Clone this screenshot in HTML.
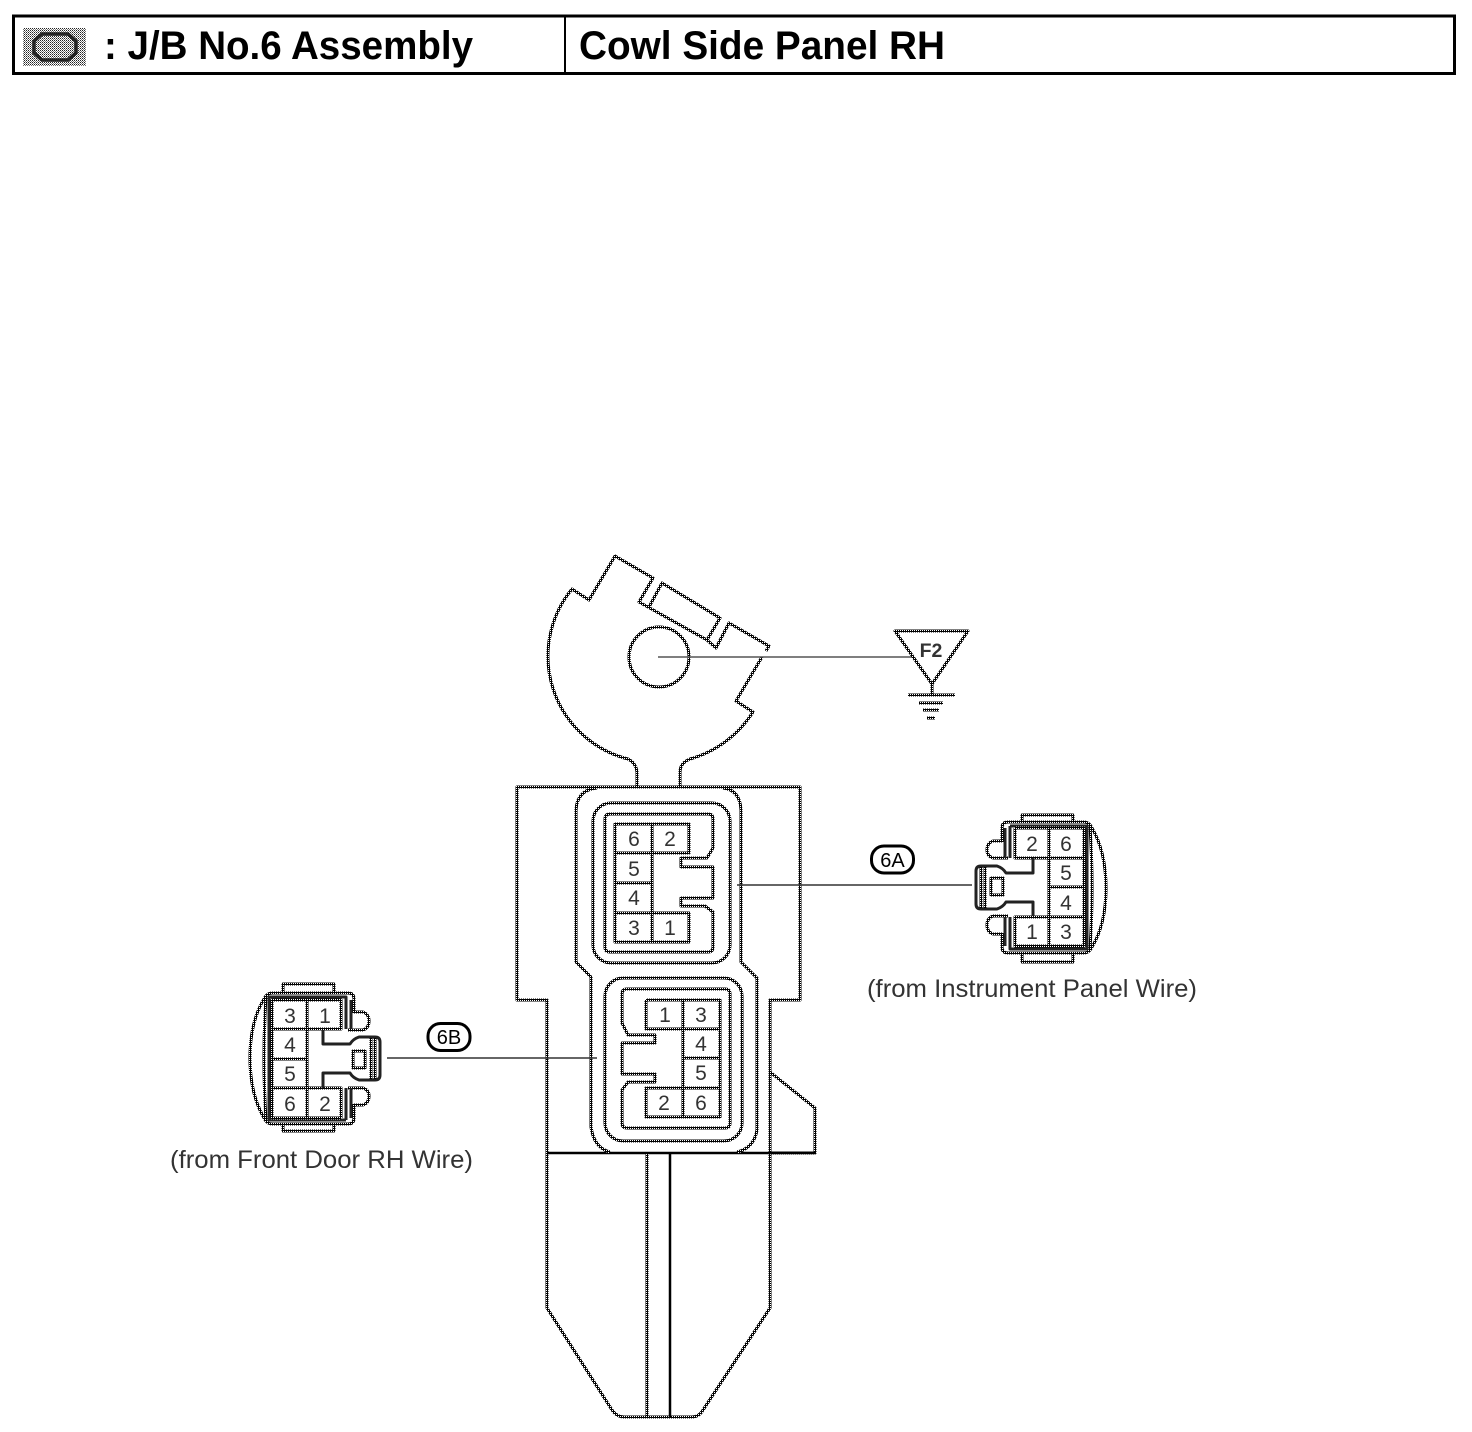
<!DOCTYPE html>
<html lang="en">
<head>
<meta charset="utf-8">
<title>J/B No.6 Assembly</title>
<style>
html,body{margin:0;padding:0;background:#fff;width:1472px;height:1432px;overflow:hidden}
svg{display:block}
text{font-family:"Liberation Sans",sans-serif}
.l{fill:none;stroke:url(#d);stroke-width:3;stroke-linejoin:round}
.k{fill:none;stroke:#222;stroke-width:3;stroke-linejoin:round}
.n{font-size:21px;fill:#333;text-anchor:middle}
.c{font-size:25px;fill:#333}
.h{font-size:40px;font-weight:bold;fill:#000}
</style>
</head>
<body>
<svg width="1472" height="1432" viewBox="0 0 1472 1432" xmlns="http://www.w3.org/2000/svg">
<defs>
<pattern id="d" width="2" height="2" patternUnits="userSpaceOnUse">
<rect width="2" height="2" fill="#000"/>
<rect width="1" height="1" fill="#fff"/>
</pattern>
<pattern id="g" width="2" height="2" patternUnits="userSpaceOnUse">
<rect width="2" height="2" fill="#fff"/>
<rect width="1" height="1" fill="#222"/>
<rect x="1" y="1" width="1" height="1" fill="#777"/>
</pattern>
<g id="conn">
<path class="l" d="M1022 822V815H1073V822M1022 953V962H1073V953"/>
<path class="l" d="M1002 842V828Q1002 822 1008 822H1084Q1089 822 1092 828Q1106 852 1106 888Q1106 924 1092 947Q1089 953 1084 953H1008Q1002 953 1002 947V933"/>
<path class="l" d="M1090 826Q1094 888 1090 949"/>
<path class="k" d="M1010 826H1087V949H1010V917M1010 826V858"/>
<path class="l" d="M1015 828H1084V946H1015V917H1049M1015 828V858H1049M1049 828V946M1049 858H1084M1049 887H1084M1049 917H1084"/>
<path class="k" d="M1033 858V873H1006Q1003 868 997 866H981Q976 866 976 871V904Q976 909 981 909H997Q1003 907 1006 902H1033V916" stroke-width="3.500"/>
<path class="l" d="M981 867V908M985 867V908"/>
<path class="l" d="M991 878H1003V895H991Z"/>
<path class="l" d="M1003 841H993Q987 843 987 850Q987 856 993 858H1008"/>
<path class="l" d="M1003 934H993Q987 932 987 925Q987 918 993 916H1008"/>
<path class="k" d="M1005 828V858M1005 917V946"/>
</g>
</defs>

<!-- header -->
<rect x="13.500" y="16" width="1441" height="57.500" fill="none" stroke="#000" stroke-width="3"/>
<line x1="565" y1="16" x2="565" y2="74" stroke="#000" stroke-width="2"/>
<rect x="23" y="28" width="63" height="38" fill="url(#g)"/>
<path d="M42 34H68L76 41V53L68 60H42L34 53V41Z" fill="none" stroke="#222" stroke-width="3.500"/>
<text class="h" x="104" y="59" textLength="369" lengthAdjust="spacingAndGlyphs">: J/B No.6 Assembly</text>
<text class="h" x="579" y="59" textLength="366" lengthAdjust="spacingAndGlyphs">Cowl Side Panel RH</text>

<!-- top bracket -->
<path class="l" d="M637 787V772Q636 763 628 759A106 106 0 0 1 572 589L589 600L615 556L653 578L639 602L707 640L716 648L729 623L769 646L766 651"/>
<path class="l" d="M762 657L736 701L753 712A110 110 0 0 1 690 759Q680 763 680 772V787"/>
<path class="l" d="M649 607L662 583L720 618L707 640"/>
<circle class="l" cx="659" cy="657" r="30"/>
<line x1="658" y1="657" x2="912" y2="657" stroke="#555" stroke-width="1.500"/>

<!-- ground symbol -->
<path class="l" d="M895 631H968L932 684Z"/>
<line class="l" x1="932" y1="684" x2="932" y2="695"/>
<line class="l" x1="908" y1="695" x2="955" y2="695"/>
<line class="l" x1="919" y1="703" x2="943" y2="703"/>
<line class="l" x1="923" y1="710" x2="939" y2="710"/>
<line class="l" x1="927" y1="718" x2="935" y2="718"/>
<text x="931" y="657" font-size="19.500" font-weight="bold" fill="#333" text-anchor="middle">F2</text>

<!-- main body -->
<path class="l" d="M517 787V1000H547V1308L612 1410Q617 1417 624 1417H692Q699 1417 703 1410L770 1308V1000H800V787Z"/>
<path class="l" d="M770 1072L815 1108V1153H770"/>
<line x1="547" y1="1153" x2="815" y2="1153" stroke="#000" stroke-width="2.500"/>
<line class="l" x1="647" y1="1153" x2="647" y2="1417"/>
<line x1="670" y1="1153" x2="670" y2="1417" stroke="#000" stroke-width="2.500"/>

<!-- centre outline -->
<path class="l" d="M592 978L576 962V810Q577 790 597 788M723 788Q740 790 741 810V962L757 978V1130Q754 1148 737 1152M610 1152Q594 1148 591 1127V978"/>

<!-- upper socket -->
<rect class="l" x="593" y="803" width="137" height="160" rx="18"/>
<path class="l" d="M610 814H708Q713 814 713 819V848L707 858H681V867H713V898H681V906H705L713 912V947Q713 952 708 952H610Q605 952 605 947V819Q605 814 610 814Z"/>
<path class="l" d="M615 824H689V853H615ZM615 853V942H689V913H615M615 883H652M652 824V942"/>
<text class="n" x="634" y="846">6</text><text class="n" x="670" y="846">2</text>
<text class="n" x="634" y="876">5</text><text class="n" x="634" y="905">4</text>
<text class="n" x="634" y="935">3</text><text class="n" x="670" y="935">1</text>
<line x1="737" y1="885" x2="972" y2="885" stroke="#333" stroke-width="1.500"/>

<!-- lower socket -->
<rect class="l" x="605" y="978" width="137" height="163" rx="18"/>
<path class="l" d="M627 989H725Q730 989 730 994V1123Q730 1128 725 1128H627Q622 1128 622 1123V1090L628 1082H655V1074H622V1043H655V1035H628L622 1023V994Q622 989 627 989Z"/>
<path class="l" d="M646 1000H720V1117H646V1088H720M646 1000V1029H720M683 1000V1117M683 1058H720"/>
<text class="n" x="665" y="1022">1</text><text class="n" x="701" y="1022">3</text>
<text class="n" x="701" y="1051">4</text><text class="n" x="701" y="1080">5</text>
<text class="n" x="664" y="1110">2</text><text class="n" x="701" y="1110">6</text>
<line x1="387" y1="1058" x2="597" y2="1058" stroke="#333" stroke-width="1.500"/>

<!-- right connector -->
<use href="#conn"/>
<text class="n" x="1032" y="851">2</text><text class="n" x="1066" y="851">6</text>
<text class="n" x="1066" y="880">5</text><text class="n" x="1066" y="910">4</text>
<text class="n" x="1032" y="939">1</text><text class="n" x="1066" y="939">3</text>

<!-- left connector -->
<use href="#conn" transform="rotate(180 678 973)"/>
<text class="n" x="290" y="1023">3</text><text class="n" x="325" y="1023">1</text>
<text class="n" x="290" y="1052">4</text><text class="n" x="290" y="1081">5</text>
<text class="n" x="290" y="1111">6</text><text class="n" x="325" y="1111">2</text>

<!-- labels -->
<rect x="871.500" y="846" width="42" height="27" rx="12.500" fill="#fff" stroke="#000" stroke-width="3"/>
<text x="892.500" y="867" font-size="20" fill="#000" text-anchor="middle">6A</text>
<rect x="428" y="1023.500" width="42" height="27" rx="12.500" fill="#fff" stroke="#000" stroke-width="3"/>
<text x="449" y="1044" font-size="20" fill="#000" text-anchor="middle">6B</text>
<text class="c" x="867" y="997" textLength="330" lengthAdjust="spacingAndGlyphs">(from Instrument Panel Wire)</text>
<text class="c" x="170" y="1168" textLength="303" lengthAdjust="spacingAndGlyphs">(from Front Door RH Wire)</text>
</svg>
</body>
</html>
